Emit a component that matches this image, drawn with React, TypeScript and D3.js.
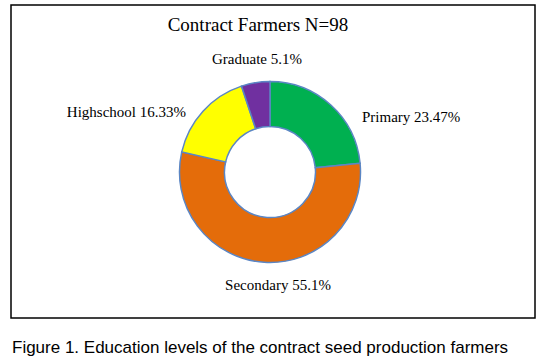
import { useEffect, useRef } from "react";
import * as d3 from "d3";

const categories = ["Primary", "Secondary", "Highschool", "Graduate"];
const shares = [23.47, 55.1, 16.33, 5.1];
const labelTexts = ["Primary 23.47%", "Secondary 55.1%", "Highschool 16.33%", "Graduate 5.1%"];
const colors = ["#00b050", "#e46c0a", "#ffff00", "#7030a0"];

const title = "Contract Farmers N=98";
const caption = "Figure 1. Education levels of the contract seed production farmers";

// label nudges relative to the donut centre (layout only)
const labelOffsets: Record<string, [number, number, string]> = {
  Primary: [92, -50, "start"],
  Secondary: [8, 118, "middle"],
  Highschool: [-84, -55, "end"],
  Graduate: [-13, -108, "middle"],
};

const App = () => {
  const svgRef = useRef<SVGSVGElement>(null);
  const width = 542;
  const height = 361;
  const cx = 270;
  const cy = 172;
  const outerR = 90.5;
  const innerR = 45.5;

  useEffect(() => {
    const svg = d3.select(svgRef.current);
    svg.selectAll("*").remove();

    svg
      .append("rect")
      .attr("x", 11)
      .attr("y", 5)
      .attr("width", 524)
      .attr("height", 313)
      .attr("fill", "white")
      .attr("stroke", "#000")
      .attr("stroke-width", 1.5);

    svg
      .append("text")
      .attr("x", 258)
      .attr("y", 31)
      .attr("text-anchor", "middle")
      .attr("font-family", "Liberation Serif, Times New Roman, serif")
      .attr("font-size", 19)
      .attr("fill", "#000")
      .text(title);

    const data = categories.map((c, i) => ({ name: c, value: shares[i], label: labelTexts[i], color: colors[i] }));

    const pie = d3
      .pie<any>()
      .sort(null)
      .value((d) => d.value);

    const arc = d3.arc<any>().innerRadius(innerR).outerRadius(outerR);

    const g = svg.append("g").attr("transform", `translate(${cx},${cy})`);

    g.selectAll("path")
      .data(pie(data))
      .enter()
      .append("path")
      .attr("d", arc)
      .attr("fill", (d) => d.data.color)
      .attr("stroke", "#5b86c4")
      .attr("stroke-width", 1.5);

    g.selectAll(".lbl")
      .data(data)
      .enter()
      .append("text")
      .attr("class", "lbl")
      .attr("x", (d) => labelOffsets[d.name][0])
      .attr("y", (d) => labelOffsets[d.name][1])
      .attr("text-anchor", (d) => labelOffsets[d.name][2])
      .attr("font-family", "Liberation Serif, Times New Roman, serif")
      .attr("font-size", 15)
      .attr("fill", "#000")
      .text((d) => d.label);

    svg
      .append("text")
      .attr("x", 12)
      .attr("y", 353)
      .attr("font-family", "Liberation Sans, Arial, sans-serif")
      .attr("font-size", 17)
      .attr("fill", "#000")
      .text(caption);
  }, []);

  return (
    <div style={{ position: "absolute", left: 0, top: 0 }}>
      <svg ref={svgRef} width={width} height={height} style={{ display: "block", background: "white" }} />
    </div>
  );
};

export default App;
